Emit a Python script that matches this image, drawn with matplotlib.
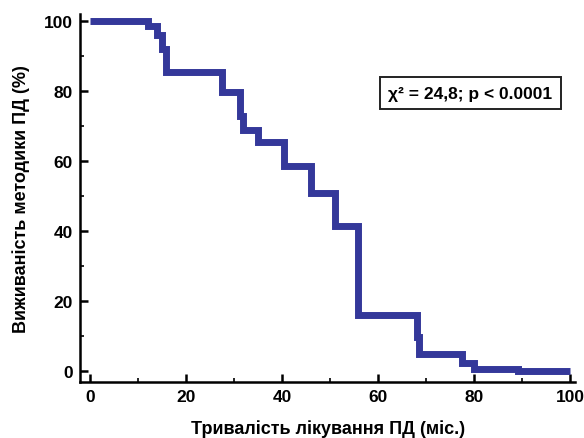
import numpy as np
import matplotlib.pyplot as plt

plt.rcParams['font.family'] = ['Liberation Sans', 'DejaVu Sans']
plt.rcParams['font.weight'] = 'bold'

# ---------------- дані ----------------
months = [0, 12, 14, 15, 15.8, 27.5, 31.3, 31.9, 35, 40.4, 46, 51, 55.8, 68, 68.4, 77.5, 80, 89, 100]
survival = [100, 98.6, 96, 92, 85.5, 79.7, 73, 69, 65.5, 58.6, 51, 41.4, 16.2, 9.7, 5.1, 2.3, 0.6, 0.2, 0.2]
x_ticks = [0, 20, 40, 60, 80, 100]
y_ticks = [0, 20, 40, 60, 80, 100]
stat_text = 'χ² = 24,8; p < 0.0001'

fig = plt.figure(figsize=(5.84, 4.39), dpi=100)
ax = fig.add_axes([0.137, 0.1276, 0.848, 0.838])

ax.step(months, survival, where='post', color='#34389a', linewidth=5.0,
        solid_joinstyle='miter', solid_capstyle='butt')

ax.set_xlim(-2.1, 101)
ax.set_ylim(-3.0, 102)
ax.set_xticks(x_ticks)
ax.set_yticks(y_ticks)
ax.set_xticks(np.arange(10, 100, 20), minor=True)
ax.set_yticks(np.arange(10, 100, 20), minor=True)

for s in ['top', 'right']:
    ax.spines[s].set_visible(False)
for s in ['left', 'bottom']:
    ax.spines[s].set_linewidth(1.8)

ax.tick_params(which='major', direction='in', length=5.5, width=1.8, labelsize=12.5, pad=5)
ax.tick_params(which='minor', direction='in', length=3, width=1.2)

ax.set_xlabel('Тривалість лікування ПД (міс.)', fontsize=13, fontweight='bold', labelpad=11)
ax.set_ylabel('Виживаність методики ПД (%)', fontsize=13, fontweight='bold', labelpad=10)

ax.text(0.788, 0.785, stat_text, transform=ax.transAxes, ha='center', va='center',
        fontsize=12.5, fontweight='bold',
        bbox=dict(boxstyle='square,pad=0.5', facecolor='white', edgecolor='#222222', linewidth=1.4))

plt.savefig('out.png', dpi=100)
